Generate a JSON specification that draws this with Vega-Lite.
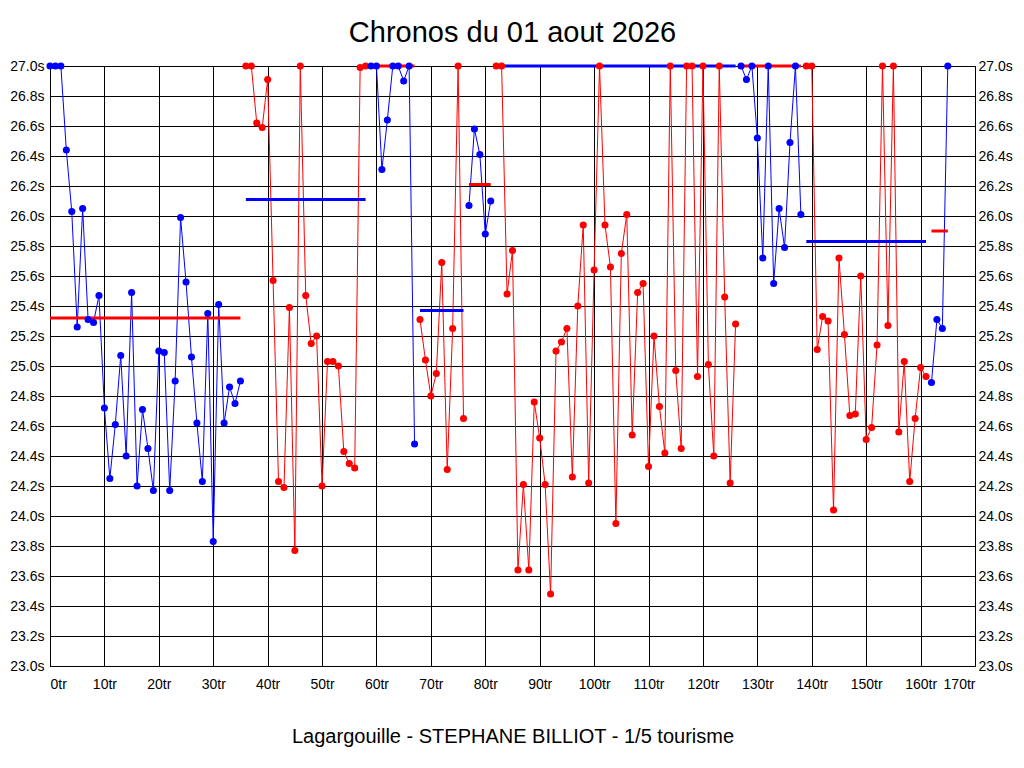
{
  "$schema": "https://vega.github.io/schema/vega-lite/v6.json",
  "width": 925,
  "height": 600,
  "autosize": {"type": "none"},
  "padding": {"left": 50, "top": 66, "right": 49, "bottom": 102},
  "background": "white",
  "title": {
    "text": "Chronos du 01 aout 2026",
    "font": "Liberation Sans",
    "fontSize": 29,
    "fontWeight": "normal",
    "color": "black",
    "anchor": "middle",
    "frame": "group",
    "baseline": "alphabetic",
    "offset": 23,
    "dy": 35
  },
  "config": {
    "view": {"stroke": "black", "strokeWidth": 1},
    "axis": {
      "domainColor": "black",
      "gridColor": "black",
      "gridOpacity": 1,
      "gridWidth": 1,
      "ticks": false,
      "tickSize": 0,
      "labelFont": "Liberation Sans",
      "labelFontSize": 14,
      "labelColor": "black",
      "titleFont": "Liberation Sans",
      "titleColor": "black"
    }
  },
  "datasets": {
    "chronos": [
      {"tour": 0, "chrono": 27.0, "relais": 1, "pilote": "A"},
      {"tour": 1, "chrono": 27.0, "relais": 1, "pilote": "A"},
      {"tour": 2, "chrono": 27.0, "relais": 1, "pilote": "A"},
      {"tour": 3, "chrono": 26.44, "relais": 1, "pilote": "A"},
      {"tour": 4, "chrono": 26.03, "relais": 1, "pilote": "A"},
      {"tour": 5, "chrono": 25.26, "relais": 1, "pilote": "A"},
      {"tour": 6, "chrono": 26.05, "relais": 1, "pilote": "A"},
      {"tour": 7, "chrono": 25.31, "relais": 1, "pilote": "A"},
      {"tour": 8, "chrono": 25.29, "relais": 1, "pilote": "A"},
      {"tour": 9, "chrono": 25.47, "relais": 1, "pilote": "A"},
      {"tour": 10, "chrono": 24.72, "relais": 1, "pilote": "A"},
      {"tour": 11, "chrono": 24.25, "relais": 1, "pilote": "A"},
      {"tour": 12, "chrono": 24.61, "relais": 1, "pilote": "A"},
      {"tour": 13, "chrono": 25.07, "relais": 1, "pilote": "A"},
      {"tour": 14, "chrono": 24.40, "relais": 1, "pilote": "A"},
      {"tour": 15, "chrono": 25.49, "relais": 1, "pilote": "A"},
      {"tour": 16, "chrono": 24.20, "relais": 1, "pilote": "A"},
      {"tour": 17, "chrono": 24.71, "relais": 1, "pilote": "A"},
      {"tour": 18, "chrono": 24.45, "relais": 1, "pilote": "A"},
      {"tour": 19, "chrono": 24.17, "relais": 1, "pilote": "A"},
      {"tour": 20, "chrono": 25.10, "relais": 1, "pilote": "A"},
      {"tour": 21, "chrono": 25.09, "relais": 1, "pilote": "A"},
      {"tour": 22, "chrono": 24.17, "relais": 1, "pilote": "A"},
      {"tour": 23, "chrono": 24.90, "relais": 1, "pilote": "A"},
      {"tour": 24, "chrono": 25.99, "relais": 1, "pilote": "A"},
      {"tour": 25, "chrono": 25.56, "relais": 1, "pilote": "A"},
      {"tour": 26, "chrono": 25.06, "relais": 1, "pilote": "A"},
      {"tour": 27, "chrono": 24.62, "relais": 1, "pilote": "A"},
      {"tour": 28, "chrono": 24.23, "relais": 1, "pilote": "A"},
      {"tour": 29, "chrono": 25.35, "relais": 1, "pilote": "A"},
      {"tour": 30, "chrono": 23.83, "relais": 1, "pilote": "A"},
      {"tour": 31, "chrono": 25.41, "relais": 1, "pilote": "A"},
      {"tour": 32, "chrono": 24.62, "relais": 1, "pilote": "A"},
      {"tour": 33, "chrono": 24.86, "relais": 1, "pilote": "A"},
      {"tour": 34, "chrono": 24.75, "relais": 1, "pilote": "A"},
      {"tour": 35, "chrono": 24.90, "relais": 1, "pilote": "A"},
      {"tour": 36, "chrono": 27.0, "relais": 2, "pilote": "B"},
      {"tour": 37, "chrono": 27.0, "relais": 2, "pilote": "B"},
      {"tour": 38, "chrono": 26.62, "relais": 2, "pilote": "B"},
      {"tour": 39, "chrono": 26.59, "relais": 2, "pilote": "B"},
      {"tour": 40, "chrono": 26.91, "relais": 2, "pilote": "B"},
      {"tour": 41, "chrono": 25.57, "relais": 2, "pilote": "B"},
      {"tour": 42, "chrono": 24.23, "relais": 2, "pilote": "B"},
      {"tour": 43, "chrono": 24.19, "relais": 2, "pilote": "B"},
      {"tour": 44, "chrono": 25.39, "relais": 2, "pilote": "B"},
      {"tour": 45, "chrono": 23.77, "relais": 2, "pilote": "B"},
      {"tour": 46, "chrono": 27.0, "relais": 2, "pilote": "B"},
      {"tour": 47, "chrono": 25.47, "relais": 2, "pilote": "B"},
      {"tour": 48, "chrono": 25.15, "relais": 2, "pilote": "B"},
      {"tour": 49, "chrono": 25.20, "relais": 2, "pilote": "B"},
      {"tour": 50, "chrono": 24.20, "relais": 2, "pilote": "B"},
      {"tour": 51, "chrono": 25.03, "relais": 2, "pilote": "B"},
      {"tour": 52, "chrono": 25.03, "relais": 2, "pilote": "B"},
      {"tour": 53, "chrono": 25.00, "relais": 2, "pilote": "B"},
      {"tour": 54, "chrono": 24.43, "relais": 2, "pilote": "B"},
      {"tour": 55, "chrono": 24.35, "relais": 2, "pilote": "B"},
      {"tour": 56, "chrono": 24.32, "relais": 2, "pilote": "B"},
      {"tour": 57, "chrono": 26.99, "relais": 2, "pilote": "B"},
      {"tour": 58, "chrono": 27.0, "relais": 2, "pilote": "B"},
      {"tour": 59, "chrono": 27.0, "relais": 3, "pilote": "A"},
      {"tour": 60, "chrono": 27.0, "relais": 3, "pilote": "A"},
      {"tour": 61, "chrono": 26.31, "relais": 3, "pilote": "A"},
      {"tour": 62, "chrono": 26.64, "relais": 3, "pilote": "A"},
      {"tour": 63, "chrono": 27.0, "relais": 3, "pilote": "A"},
      {"tour": 64, "chrono": 27.0, "relais": 3, "pilote": "A"},
      {"tour": 65, "chrono": 26.90, "relais": 3, "pilote": "A"},
      {"tour": 66, "chrono": 27.0, "relais": 3, "pilote": "A"},
      {"tour": 67, "chrono": 24.48, "relais": 3, "pilote": "A"},
      {"tour": 68, "chrono": 25.31, "relais": 4, "pilote": "B"},
      {"tour": 69, "chrono": 25.04, "relais": 4, "pilote": "B"},
      {"tour": 70, "chrono": 24.80, "relais": 4, "pilote": "B"},
      {"tour": 71, "chrono": 24.95, "relais": 4, "pilote": "B"},
      {"tour": 72, "chrono": 25.69, "relais": 4, "pilote": "B"},
      {"tour": 73, "chrono": 24.31, "relais": 4, "pilote": "B"},
      {"tour": 74, "chrono": 25.25, "relais": 4, "pilote": "B"},
      {"tour": 75, "chrono": 27.0, "relais": 4, "pilote": "B"},
      {"tour": 76, "chrono": 24.65, "relais": 4, "pilote": "B"},
      {"tour": 77, "chrono": 26.07, "relais": 5, "pilote": "A"},
      {"tour": 78, "chrono": 26.58, "relais": 5, "pilote": "A"},
      {"tour": 79, "chrono": 26.41, "relais": 5, "pilote": "A"},
      {"tour": 80, "chrono": 25.88, "relais": 5, "pilote": "A"},
      {"tour": 81, "chrono": 26.10, "relais": 5, "pilote": "A"},
      {"tour": 82, "chrono": 27.0, "relais": 6, "pilote": "B"},
      {"tour": 83, "chrono": 27.0, "relais": 6, "pilote": "B"},
      {"tour": 84, "chrono": 25.48, "relais": 6, "pilote": "B"},
      {"tour": 85, "chrono": 25.77, "relais": 6, "pilote": "B"},
      {"tour": 86, "chrono": 23.64, "relais": 6, "pilote": "B"},
      {"tour": 87, "chrono": 24.21, "relais": 6, "pilote": "B"},
      {"tour": 88, "chrono": 23.64, "relais": 6, "pilote": "B"},
      {"tour": 89, "chrono": 24.76, "relais": 6, "pilote": "B"},
      {"tour": 90, "chrono": 24.52, "relais": 6, "pilote": "B"},
      {"tour": 91, "chrono": 24.21, "relais": 6, "pilote": "B"},
      {"tour": 92, "chrono": 23.48, "relais": 6, "pilote": "B"},
      {"tour": 93, "chrono": 25.10, "relais": 6, "pilote": "B"},
      {"tour": 94, "chrono": 25.16, "relais": 6, "pilote": "B"},
      {"tour": 95, "chrono": 25.25, "relais": 6, "pilote": "B"},
      {"tour": 96, "chrono": 24.26, "relais": 6, "pilote": "B"},
      {"tour": 97, "chrono": 25.40, "relais": 6, "pilote": "B"},
      {"tour": 98, "chrono": 25.94, "relais": 6, "pilote": "B"},
      {"tour": 99, "chrono": 24.22, "relais": 6, "pilote": "B"},
      {"tour": 100, "chrono": 25.64, "relais": 6, "pilote": "B"},
      {"tour": 101, "chrono": 27.0, "relais": 6, "pilote": "B"},
      {"tour": 102, "chrono": 25.94, "relais": 6, "pilote": "B"},
      {"tour": 103, "chrono": 25.66, "relais": 6, "pilote": "B"},
      {"tour": 104, "chrono": 23.95, "relais": 6, "pilote": "B"},
      {"tour": 105, "chrono": 25.75, "relais": 6, "pilote": "B"},
      {"tour": 106, "chrono": 26.01, "relais": 6, "pilote": "B"},
      {"tour": 107, "chrono": 24.54, "relais": 6, "pilote": "B"},
      {"tour": 108, "chrono": 25.49, "relais": 6, "pilote": "B"},
      {"tour": 109, "chrono": 25.55, "relais": 6, "pilote": "B"},
      {"tour": 110, "chrono": 24.33, "relais": 6, "pilote": "B"},
      {"tour": 111, "chrono": 25.20, "relais": 6, "pilote": "B"},
      {"tour": 112, "chrono": 24.73, "relais": 6, "pilote": "B"},
      {"tour": 113, "chrono": 24.42, "relais": 6, "pilote": "B"},
      {"tour": 114, "chrono": 27.0, "relais": 6, "pilote": "B"},
      {"tour": 115, "chrono": 24.97, "relais": 6, "pilote": "B"},
      {"tour": 116, "chrono": 24.45, "relais": 6, "pilote": "B"},
      {"tour": 117, "chrono": 27.0, "relais": 6, "pilote": "B"},
      {"tour": 118, "chrono": 27.0, "relais": 6, "pilote": "B"},
      {"tour": 119, "chrono": 24.93, "relais": 6, "pilote": "B"},
      {"tour": 120, "chrono": 27.0, "relais": 6, "pilote": "B"},
      {"tour": 121, "chrono": 25.01, "relais": 6, "pilote": "B"},
      {"tour": 122, "chrono": 24.40, "relais": 6, "pilote": "B"},
      {"tour": 123, "chrono": 27.0, "relais": 6, "pilote": "B"},
      {"tour": 124, "chrono": 25.46, "relais": 6, "pilote": "B"},
      {"tour": 125, "chrono": 24.22, "relais": 6, "pilote": "B"},
      {"tour": 126, "chrono": 25.28, "relais": 6, "pilote": "B"},
      {"tour": 127, "chrono": 27.0, "relais": 7, "pilote": "A"},
      {"tour": 128, "chrono": 26.91, "relais": 7, "pilote": "A"},
      {"tour": 129, "chrono": 27.0, "relais": 7, "pilote": "A"},
      {"tour": 130, "chrono": 26.52, "relais": 7, "pilote": "A"},
      {"tour": 131, "chrono": 25.72, "relais": 7, "pilote": "A"},
      {"tour": 132, "chrono": 27.0, "relais": 7, "pilote": "A"},
      {"tour": 133, "chrono": 25.55, "relais": 7, "pilote": "A"},
      {"tour": 134, "chrono": 26.05, "relais": 7, "pilote": "A"},
      {"tour": 135, "chrono": 25.79, "relais": 7, "pilote": "A"},
      {"tour": 136, "chrono": 26.49, "relais": 7, "pilote": "A"},
      {"tour": 137, "chrono": 27.0, "relais": 7, "pilote": "A"},
      {"tour": 138, "chrono": 26.01, "relais": 7, "pilote": "A"},
      {"tour": 139, "chrono": 27.0, "relais": 8, "pilote": "B"},
      {"tour": 140, "chrono": 27.0, "relais": 8, "pilote": "B"},
      {"tour": 141, "chrono": 25.11, "relais": 8, "pilote": "B"},
      {"tour": 142, "chrono": 25.33, "relais": 8, "pilote": "B"},
      {"tour": 143, "chrono": 25.30, "relais": 8, "pilote": "B"},
      {"tour": 144, "chrono": 24.04, "relais": 8, "pilote": "B"},
      {"tour": 145, "chrono": 25.72, "relais": 8, "pilote": "B"},
      {"tour": 146, "chrono": 25.21, "relais": 8, "pilote": "B"},
      {"tour": 147, "chrono": 24.67, "relais": 8, "pilote": "B"},
      {"tour": 148, "chrono": 24.68, "relais": 8, "pilote": "B"},
      {"tour": 149, "chrono": 25.60, "relais": 8, "pilote": "B"},
      {"tour": 150, "chrono": 24.51, "relais": 8, "pilote": "B"},
      {"tour": 151, "chrono": 24.59, "relais": 8, "pilote": "B"},
      {"tour": 152, "chrono": 25.14, "relais": 8, "pilote": "B"},
      {"tour": 153, "chrono": 27.0, "relais": 8, "pilote": "B"},
      {"tour": 154, "chrono": 25.27, "relais": 8, "pilote": "B"},
      {"tour": 155, "chrono": 27.0, "relais": 8, "pilote": "B"},
      {"tour": 156, "chrono": 24.56, "relais": 8, "pilote": "B"},
      {"tour": 157, "chrono": 25.03, "relais": 8, "pilote": "B"},
      {"tour": 158, "chrono": 24.23, "relais": 8, "pilote": "B"},
      {"tour": 159, "chrono": 24.65, "relais": 8, "pilote": "B"},
      {"tour": 160, "chrono": 24.99, "relais": 8, "pilote": "B"},
      {"tour": 161, "chrono": 24.93, "relais": 8, "pilote": "B"},
      {"tour": 162, "chrono": 24.89, "relais": 9, "pilote": "A"},
      {"tour": 163, "chrono": 25.31, "relais": 9, "pilote": "A"},
      {"tour": 164, "chrono": 25.25, "relais": 9, "pilote": "A"},
      {"tour": 165, "chrono": 27.0, "relais": 9, "pilote": "A"}
    ],
    "moyennes": [
      {"relais": 1, "debut": 0, "fin": 35, "moyenne": 25.32, "trait": "B"},
      {"relais": 2, "debut": 36, "fin": 58, "moyenne": 26.11, "trait": "A"},
      {"relais": 3, "debut": 59, "fin": 67, "moyenne": 27.0, "trait": "B"},
      {"relais": 4, "debut": 68, "fin": 76, "moyenne": 25.37, "trait": "A"},
      {"relais": 5, "debut": 77, "fin": 81, "moyenne": 26.21, "trait": "B"},
      {"relais": 6, "debut": 82, "fin": 126, "moyenne": 27.0, "trait": "A"},
      {"relais": 7, "debut": 127, "fin": 138, "moyenne": 27.0, "trait": "B"},
      {"relais": 8, "debut": 139, "fin": 161, "moyenne": 25.83, "trait": "A"},
      {"relais": 9, "debut": 162, "fin": 165, "moyenne": 25.90, "trait": "B"}
    ]
  },
  "layer": [
    {
      "data": {"name": "chronos"},
      "mark": {"type": "line", "strokeWidth": 1, "clip": true},
      "encoding": {
        "x": {
          "field": "tour",
          "type": "quantitative",
          "scale": {"domain": [0, 170], "nice": false, "zero": false},
          "axis": {
            "values": [0, 10, 20, 30, 40, 50, 60, 70, 80, 90, 100, 110, 120, 130, 140, 150, 160, 170],
            "labelExpr": "datum.value + 'tr'",
            "labelPadding": 11,
            "title": "Lagargouille - STEPHANE BILLIOT - 1/5 tourisme",
            "titleFontSize": 20,
            "titleFontWeight": "normal",
            "titleBaseline": "alphabetic",
            "titleY": 76
          }
        },
        "y": {
          "field": "chrono",
          "type": "quantitative",
          "scale": {"domain": [23, 27], "nice": false, "zero": false},
          "axis": {
            "orient": "left",
            "values": [23, 23.2, 23.4, 23.6, 23.8, 24, 24.2, 24.4, 24.6, 24.8, 25, 25.2, 25.4, 25.6, 25.8, 26, 26.2, 26.4, 26.6, 26.8, 27],
            "labelExpr": "format(datum.value, '.1f') + 's'",
            "labelPadding": 6,
            "title": null
          }
        },
        "color": {
          "field": "pilote",
          "type": "nominal",
          "scale": {"domain": ["A", "B"], "range": ["#0000ff", "#ff0000"]},
          "legend": null
        },
        "detail": {"field": "relais", "type": "nominal"}
      }
    },
    {
      "data": {"name": "moyennes"},
      "mark": {"type": "rule", "strokeWidth": 3},
      "encoding": {
        "x": {"field": "debut", "type": "quantitative"},
        "x2": {"field": "fin"},
        "y": {"field": "moyenne", "type": "quantitative", "axis": null},
        "color": {"field": "trait", "type": "nominal", "legend": null}
      }
    },
    {
      "data": {"name": "chronos"},
      "mark": {"type": "circle", "size": 50, "opacity": 1},
      "encoding": {
        "x": {"field": "tour", "type": "quantitative"},
        "y": {
          "field": "chrono",
          "type": "quantitative",
          "axis": {
            "orient": "right",
            "values": [23, 23.2, 23.4, 23.6, 23.8, 24, 24.2, 24.4, 24.6, 24.8, 25, 25.2, 25.4, 25.6, 25.8, 26, 26.2, 26.4, 26.6, 26.8, 27],
            "labelExpr": "format(datum.value, '.1f') + 's'",
            "labelPadding": 3,
            "grid": false,
            "title": null
          }
        },
        "color": {"field": "pilote", "type": "nominal", "legend": null}
      }
    }
  ],
  "resolve": {"axis": {"y": "independent"}}
}
